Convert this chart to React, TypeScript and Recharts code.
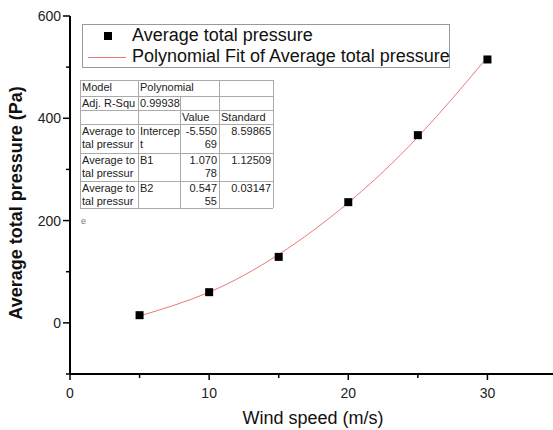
import React from 'react';
import { ComposedChart, Line, Scatter, XAxis, YAxis } from 'recharts';

const windSpeed = [5, 10, 15, 20, 25, 30];
const avgPressure = [15, 60, 129, 236, 367, 515];
const fitPressure = [13.5, 59.9, 133.7, 234.9, 363.4, 519.4];

const xTicks = [0, 5, 10, 15, 20, 25, 30, 35];
const xMajor = [0, 10, 20, 30];
const yTicks = [-100, 0, 100, 200, 300, 400, 500, 600];
const yMajor = [0, 200, 400, 600];

const seriesName = 'Average total pressure';
const fitName = 'Polynomial Fit of Average total pressure';

const tableRows = [
  ['Model', 'Polynomial', '', ''],
  ['Adj. R-Squ', '0.99938', '', ''],
  ['', '', 'Value', 'Standard'],
  ['Average to\ntal pressur', 'Intercep\nt', '-5.550\n69', '8.59865'],
  ['Average to\ntal pressur', 'B1', '1.070\n78', '1.12509'],
  ['Average to\ntal pressur', 'B2', '0.547\n55', '0.03147'],
];

const data = windSpeed.map((x, i) => ({ x, avg: avgPressure[i], fit: fitPressure[i] }));

const FONT = 'Arial, "Liberation Sans", sans-serif';

const XTick = (props: any) => {
  const { x, y, payload } = props;
  const v = payload.value;
  const major = xMajor.includes(v);
  return (
    <g>
      <line x1={x} x2={x} y1={y} y2={y + (major ? 6 : 4)} stroke="#000" strokeWidth={1.5} />
      {major && (
        <text x={x} y={y + 24} textAnchor="middle" fontSize={14} fill="#222" fontFamily={FONT}>
          {v}
        </text>
      )}
    </g>
  );
};

const YTick = (props: any) => {
  const { x, y, payload } = props;
  const v = payload.value;
  const major = yMajor.includes(v);
  return (
    <g>
      <line x1={x} x2={x - (major ? 7 : 4)} y1={y} y2={y} stroke="#000" strokeWidth={1.5} />
      {major && (
        <text x={x - 9} y={y + 5} textAnchor="end" fontSize={14} fill="#222" fontFamily={FONT}>
          {v}
        </text>
      )}
    </g>
  );
};

const SquareShape = (props: any) => {
  const { cx, cy } = props;
  if (cx == null || cy == null) return null;
  return <rect x={cx - 4} y={cy - 4} width={8} height={8} fill="#000" />;
};

const LegendBox = () => (
  <div
    style={{
      position: 'absolute',
      left: 82,
      top: 24,
      width: 366,
      height: 42,
      border: '1px solid #999',
      background: '#fff',
      fontFamily: FONT,
      fontSize: 18,
      color: '#111',
    }}
  >
    <div style={{ position: 'absolute', left: 21, top: 7, width: 8, height: 8, background: '#000' }} />
    <div style={{ position: 'absolute', left: 49, top: 0, lineHeight: '21px', whiteSpace: 'nowrap' }}>{seriesName}</div>
    <div style={{ position: 'absolute', left: 5, top: 32, width: 38, height: 1, background: '#ee7777' }} />
    <div style={{ position: 'absolute', left: 49, top: 21, lineHeight: '21px', whiteSpace: 'nowrap' }}>{fitName}</div>
  </div>
);

const colX = [80, 138, 180, 219, 273];
const rowY = [80, 96, 110, 124, 153, 181, 208];

const StatsTable = () => {
  const cells: any[] = [];
  tableRows.forEach((row, r) => {
    row.forEach((txt, c) => {
      const left = colX[c];
      const w = colX[c + 1] - colX[c];
      const top = rowY[r];
      const rightAlign = r >= 3 && c >= 2;
      cells.push(
        <div
          key={`${r}-${c}`}
          style={{
            position: 'absolute',
            left: left + 2,
            top: top + 1,
            width: w - 4,
            fontSize: 11,
            lineHeight: '13px',
            textAlign: rightAlign ? 'right' : 'left',
            whiteSpace: 'pre',
            color: '#222',
          }}
        >
          {txt}
        </div>
      );
    });
  });
  const lines: any[] = [];
  rowY.forEach((y, i) => {
    lines.push(
      <div key={`h${i}`} style={{ position: 'absolute', left: colX[0], top: y, width: colX[4] - colX[0], height: 1, background: '#aaa' }} />
    );
  });
  colX.forEach((x, i) => {
    const top = i === 2 ? rowY[1] : rowY[0];
    lines.push(
      <div key={`v${i}`} style={{ position: 'absolute', left: x, top, width: 1, height: rowY[6] - top, background: '#aaa' }} />
    );
  });
  return (
    <div style={{ position: 'absolute', left: 0, top: 0, fontFamily: FONT }}>
      <div style={{ position: 'absolute', left: colX[0], top: rowY[0], width: colX[4] - colX[0], height: rowY[6] - rowY[0], background: '#fff' }} />
      {lines}
      {cells}
      <div style={{ position: 'absolute', left: 81, top: 216, fontSize: 9, color: '#777' }}>e</div>
    </div>
  );
};

const YLabel = () => (
  <text
    x={22}
    y={203}
    transform="rotate(-90, 22, 203)"
    textAnchor="middle"
    fontSize={18}
    fontWeight="bold"
    fill="#111"
    fontFamily={FONT}
  >
    Average total pressure (Pa)
  </text>
);

const XLabel = () => (
  <text x={313} y={424} textAnchor="middle" fontSize={18} fill="#111" fontFamily={FONT}>
    Wind speed (m/s)
  </text>
);

export default function App() {
  return (
    <div style={{ position: 'absolute', left: 0, top: 0, width: 553, height: 430, overflow: 'hidden', background: '#fff' }}>
      <ComposedChart
        width={560}
        height={430}
        data={data}
        margin={{ top: 16, right: 3, bottom: 0, left: 0 }}
      >
        <XAxis
          xAxisId="top"
          orientation="top"
          type="number"
          dataKey="x"
          domain={[0, 35]}
          height={0}
          tick={false}
          tickLine={false}
          axisLine={{ stroke: '#000', strokeWidth: 2 }}
        />
        <XAxis
          type="number"
          dataKey="x"
          domain={[0, 35]}
          ticks={xTicks}
          interval={0}
          height={56}
          tickSize={0}
          tickMargin={0}
          tickLine={false}
          tick={<XTick />}
          axisLine={{ stroke: '#000', strokeWidth: 2 }}
          label={<XLabel />}
        />
        <YAxis
          type="number"
          domain={[-100, 600]}
          ticks={yTicks}
          interval={0}
          width={70}
          tickSize={0}
          tickMargin={0}
          tickLine={false}
          tick={<YTick />}
          axisLine={{ stroke: '#000', strokeWidth: 2 }}
          label={<YLabel />}
        />
        <Line
          dataKey="fit"
          type="natural"
          stroke="#ee7777"
          strokeWidth={1}
          dot={false}
          isAnimationActive={false}
          name={fitName}
        />
        <Scatter dataKey="avg" shape={<SquareShape />} isAnimationActive={false} name={seriesName} />
      </ComposedChart>
      <StatsTable />
      <LegendBox />
    </div>
  );
}
